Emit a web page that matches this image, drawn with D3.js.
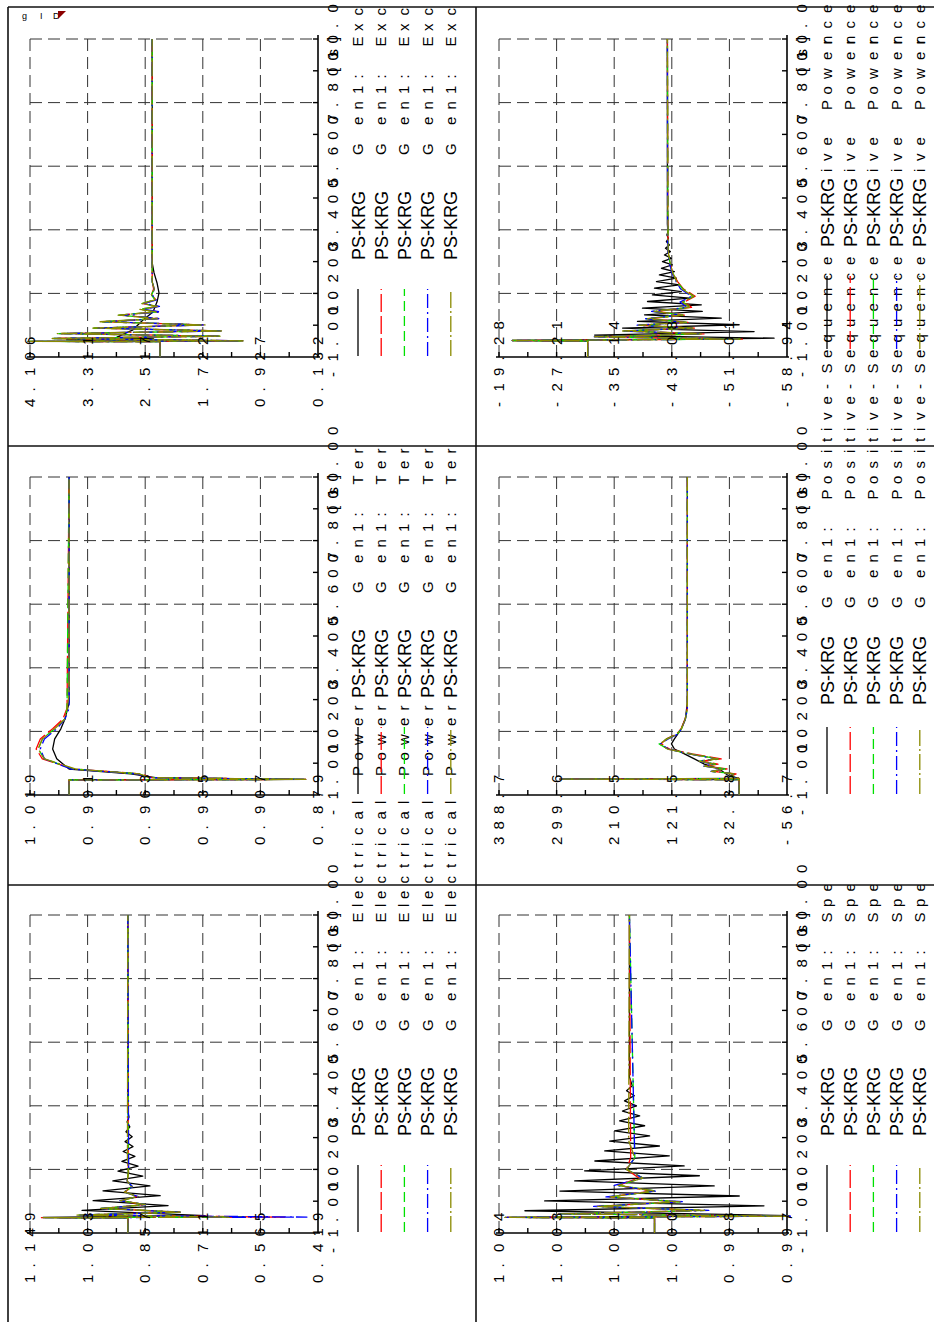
<!DOCTYPE html>
<html><head><meta charset="utf-8">
<script src="https://cdn.jsdelivr.net/npm/d3@7"></script>
<style>body{margin:0;background:#fff}svg{display:block}</style>
</head><body>
<svg id="page" width="934" height="1322"></svg>
<script>
// ---- time axis (shared by all six plots) ----
const timeDomain = [-1, 10];
const timeTickLabels = ["-1.000", "1.200", "3.400", "5.600", "7.800", "10.00"];

// ---- series: black, red, green, blue, olive ----
const seriesNames = ["PS-KRG", "PS-KRG", "PS-KRG", "PS-KRG", "PS-KRG"];
const seriesColors = ["#000000", "#ff0000", "#00e000", "#0000ff", "#8a8a00"];

// ---- Gen1: Electrical Power ----
const elecTickLabels = ["1.149", "1.003", "0.857", "0.711", "0.565", "0.419"];
const elecBlack = [[-1,.901],[-.48,.901],[-.46,1.116],[-.40,.705],[-.22,1.017],[-.05,.799],[.12,.989],[.29,.819],[.46,.964],[.63,.845],[.80,.939],[.97,.863],[1.14,.926],[1.31,.875],[1.48,.916],[1.65,.883],[1.82,.913],[1.99,.888],[2.16,.908],[2.33,.890],[2.50,.906],[2.67,.896],[2.84,.903],[3.01,.898],[3.2,.901],[10,.901]];
const elecRed = [[-1,.901],[-.48,.901],[-.47,1.12],[-.45,.503],[-.38,1.02],[-.28,.77],[-.15,.965],[-.02,.86],[.12,.918],[.26,.878],[.42,.908],[.6,.892],[.8,.902],[1.1,.9],[10,.901]];
const elecGreen = [[-1,.901],[-.48,.901],[-.47,1.11],[-.45,.60],[-.38,1.025],[-.28,.768],[-.15,.968],[-.02,.857],[.12,.919],[.26,.877],[.42,.909],[.6,.891],[.8,.902],[1.1,.9],[10,.901]];
const elecBlue = [[-1,.901],[-.48,.901],[-.47,1.115],[-.45,.447],[-.38,1.028],[-.28,.766],[-.15,.969],[-.02,.856],[.12,.921],[.26,.874],[.42,.911],[.6,.889],[.8,.903],[1.1,.899],[10,.901]];
const elecOlive = [[-1,.901],[-.48,.901],[-.47,1.116],[-.45,.642],[-.38,1.03],[-.28,.764],[-.15,.97],[-.02,.855],[.12,.92],[.26,.875],[.42,.91],[.6,.89],[.8,.903],[1.1,.899],[1.5,.902],[10,.901]];

// ---- Gen1: Terminal Voltage ----
const voltTickLabels = ["1.019", "0.991", "0.963", "0.935", "0.907", "0.879"];
const voltBlack = [[-1,1.0],[-.48,1.0],[-.46,.885],[-.40,.958],[-.27,.97],[-.10,1.0],[.25,1.006],[.59,1.008],[.94,1.007],[1.29,1.004],[1.63,1.002],[2.2,1.0],[10,1.0]];
const voltRed = [[-1,1.0],[-.48,1.0],[-.46,.885],[-.40,.96],[-.27,.965],[-.10,.998],[.25,1.013],[.59,1.016],[.94,1.014],[1.29,1.008],[1.63,1.003],[2.0,1.001],[10,1.0]];
const voltGreen = [[-1,1.0],[-.48,1.0],[-.46,.886],[-.40,.961],[-.27,.966],[-.10,.998],[.25,1.012],[.59,1.015],[.94,1.013],[1.29,1.007],[1.63,1.002],[2.0,1.001],[10,1.0]];
const voltBlue = [[-1,1.0],[-.48,1.0],[-.46,.886],[-.40,.962],[-.27,.967],[-.10,.999],[.25,1.012],[.59,1.014],[.94,1.012],[1.29,1.006],[1.63,1.002],[2.0,1.0],[10,1.0]];
const voltOlive = [[-1,1.0],[-.48,1.0],[-.46,.885],[-.40,.961],[-.27,.966],[-.10,.997],[.25,1.012],[.59,1.015],[.94,1.013],[1.29,1.007],[1.63,1.002],[1.98,1.001],[2.5,1.0],[10,1.0]];

// ---- Gen1: Excitation Voltage ----
const excTickLabels = ["4.106", "3.311", "2.517", "1.722", "0.927", "0.132"];
const excBlack = [[-1,2.312],[-.47,2.312],[-.46,4.134],[-.44,1.167],[-.40,3.60],[-.37,2.40],[-.31,2.906],[-.06,2.685],[.28,2.547],[.56,2.409],[.91,2.353],[1.22,2.326],[1.56,2.353],[1.91,2.394],[2.26,2.42],[10,2.42]];
const excRed = [[-1,2.312],[-.47,2.312],[-.46,4.05],[-.44,1.25],[-.36,3.75],[-.28,1.50],[-.19,3.70],[-.10,1.48],[0,3.22],[.11,1.72],[.22,3.10],[.33,2.33],[.45,2.86],[.56,2.34],[.65,2.58],[.75,2.34],[.85,2.55],[.98,2.37],[1.15,2.43],[1.35,2.40],[1.6,2.42],[10,2.42]];
const excGreen = [[-1,2.312],[-.47,2.312],[-.46,4.10],[-.44,1.20],[-.36,3.78],[-.28,1.49],[-.19,3.72],[-.10,1.46],[0,3.23],[.11,1.70],[.22,3.12],[.33,2.34],[.45,2.88],[.56,2.35],[.65,2.59],[.75,2.35],[.85,2.56],[.98,2.38],[1.15,2.43],[1.35,2.39],[1.6,2.42],[10,2.42]];
const excBlue = [[-1,2.312],[-.47,2.312],[-.46,4.08],[-.44,1.22],[-.36,3.77],[-.28,1.51],[-.19,3.69],[-.10,1.47],[0,3.20],[.11,1.71],[.22,3.08],[.33,2.30],[.45,2.84],[.56,2.30],[.65,2.55],[.75,2.32],[.85,2.53],[.98,2.36],[1.15,2.42],[1.35,2.39],[1.6,2.42],[10,2.42]];
const excOlive = [[-1,2.312],[-.47,2.312],[-.46,4.134],[-.44,1.167],[-.36,3.80],[-.28,1.484],[-.19,3.73],[-.10,1.44],[0,3.24],[.11,1.69],[.22,3.14],[.33,2.35],[.45,2.89],[.56,2.35],[.65,2.59],[.75,2.35],[.85,2.56],[.98,2.38],[1.15,2.43],[1.35,2.39],[1.6,2.42],[10,2.42]];

// ---- Gen1: Speed ----
const speedTickLabels = ["1.004", "1.003", "1.001", "1.000", "0.998", "0.997"];
const speedDomain = [0.997, 1.004];
const speedBlack = [[-1,1.00022],[-.48,1.00022],[-.46,1.00385],[-.40,.99695],[-.23,1.00337],[-.06,.99756],[.11,1.00289],[.28,.99816],[.45,1.00252],[.63,.99877],[.80,1.00216],[.98,.99913],[1.15,1.00192],[1.32,.9995],[1.49,1.00167],[1.67,.99986],[1.84,1.00143],[2.01,1.0001],[2.18,1.00131],[2.36,1.00034],[2.53,1.00119],[2.71,1.00046],[2.88,1.00107],[3.05,1.00058],[3.22,1.001],[3.40,1.00066],[3.57,1.00095],[3.75,1.00071],[3.92,1.0009],[4.09,1.00076],[4.4,1.00083],[10,1.00083]];
const speedRed = [[-1,1.00022],[-.48,1.00022],[-.46,1.0038],[-.42,.9970],[-.34,1.0024],[-.22,.9991],[-.08,1.0016],[.08,.9997],[.25,1.0013],[.45,1.0003],[.65,1.0011],[.9,1.0006],[1.2,1.0009],[1.6,1.0008],[10,1.00083]];
const speedGreen = [[-1,1.00022],[-.48,1.00022],[-.46,1.0038],[-.42,.9971],[-.34,1.0025],[-.22,.9990],[-.08,1.0016],[.08,.9996],[.25,1.0013],[.45,1.0002],[.65,1.0011],[.9,1.0005],[1.2,1.0009],[1.6,1.0007],[10,1.00083]];
const speedBlue = [[-1,1.00022],[-.48,1.00022],[-.46,1.0038],[-.42,.9969],[-.34,1.0025],[-.22,.9989],[-.08,1.0017],[.08,.9995],[.25,1.0014],[.45,1.0002],[.65,1.0012],[.9,1.0005],[1.2,1.0009],[1.6,1.0007],[10,1.00083]];
const speedOlive = [[-1,1.00022],[-.48,1.00022],[-.46,1.00385],[-.42,.99695],[-.34,1.0025],[-.22,.9990],[-.08,1.0016],[.08,.9996],[.25,1.0013],[.45,1.0002],[.65,1.0011],[.9,1.0005],[1.2,1.0009],[1.6,1.0007],[2.2,1.00085],[10,1.00083]];

// ---- Gen1: Positive-Sequence, Active Power ----
const pTickLabels = ["388.7", "299.6", "210.5", "121.5", "32.38", "-56.7"];
const pBlack = [[-1,17.3],[-.47,17.3],[-.45,294.7],[-.43,17.3],[-.3,35.8],[-.1,48.1],[.07,71.2],[.25,86.6],[.42,102],[.59,117.4],[.77,122],[.94,117.4],[1.29,106.7],[1.63,100.5],[2.2,97.4],[10,97.4]];
const pRed = [[-1,17.3],[-.47,17.3],[-.45,290],[-.43,17.3],[-.35,30],[-.27,22],[-.18,58],[-.1,36],[0,68],[.07,50],[.17,76],[.25,45],[.42,90],[.59,125],[.77,138],[.94,130],[1.11,114],[1.29,107],[1.63,101],[1.98,97.6],[10,97.4]];
const pGreen = [[-1,17.3],[-.47,17.3],[-.45,292],[-.43,17.3],[-.35,32],[-.27,24],[-.18,60],[-.1,39],[0,70],[.07,54],[.17,78],[.25,50],[.42,93],[.59,128],[.77,141],[.94,129],[1.11,113],[1.29,106.5],[1.63,100.5],[1.98,97.4],[10,97.4]];
const pBlue = [[-1,17.3],[-.47,17.3],[-.45,294.7],[-.43,17.3],[-.35,33],[-.27,26],[-.18,61],[-.1,41],[0,72],[.07,57],[.17,80],[.25,53],[.42,95],[.59,127],[.77,139],[.94,127],[1.11,112],[1.29,106.5],[1.63,100.4],[1.98,97.4],[10,97.4]];
const pOlive = [[-1,17.3],[-.47,17.3],[-.45,294.7],[-.43,17.3],[-.35,32.7],[-.27,25],[-.18,60.4],[-.1,40.4],[0,71.2],[.07,55.8],[.17,78.9],[.25,51.2],[.42,94.3],[.59,128.2],[.77,140.6],[.94,128.2],[1.11,112.8],[1.29,106.7],[1.63,100.5],[1.98,97.4],[10,97.4]];

// ---- Gen1: Positive-Sequence, Reactive Power ----
const qTickLabels = ["-19.28", "-27.21", "-35.14", "-43.08", "-51.01", "-58.94"];
const qBlack = [[-1,-31.49],[-.45,-31.49],[-.43,-21.1],[-.35,-57.16],[-.24,-32.45],[-.12,-54.41],[0,-36.30],[.115,-52.35],[.23,-38.35],[.345,-49.88],[.46,-39.32],[.575,-47.27],[.69,-39.04],[.805,-47.14],[.92,-39.73],[1.035,-45.49],[1.15,-40.41],[1.265,-44.39],[1.38,-40.69],[1.495,-44.12],[1.61,-40.96],[1.725,-43.71],[1.84,-41.37],[1.955,-43.43],[2.07,-41.65],[2.185,-43.16],[2.30,-41.79],[2.415,-43.02],[2.53,-42.06],[2.645,-42.88],[2.76,-42.20],[2.875,-42.75],[2.99,-42.33],[3.105,-42.61],[3.22,-42.40],[3.335,-42.55],[3.6,-42.47],[10,-42.47]];
const qRed = [[-1,-31.49],[-.45,-31.49],[-.43,-21.3],[-.38,-52.8],[-.30,-33.0],[-.20,-47.5],[-.10,-36.8],[0,-46.2],[.1,-38.8],[.2,-45.3],[.32,-39.8],[.45,-44.8],[.58,-40.8],[.72,-45.8],[.9,-44.8],[1.1,-46.3],[1.35,-44.7],[1.6,-43.9],[1.9,-43.2],[2.3,-42.8],[2.7,-42.55],[10,-42.47]];
const qGreen = [[-1,-31.49],[-.45,-31.49],[-.43,-21.2],[-.38,-52.5],[-.30,-32.7],[-.20,-47.3],[-.10,-36.5],[0,-46.0],[.1,-38.6],[.2,-45.1],[.32,-39.6],[.45,-44.6],[.58,-40.6],[.72,-45.6],[.9,-44.6],[1.1,-46.1],[1.35,-44.6],[1.6,-43.8],[1.9,-43.2],[2.3,-42.8],[2.7,-42.55],[10,-42.47]];
const qBlue = [[-1,-31.49],[-.45,-31.49],[-.43,-21.1],[-.38,-52.2],[-.30,-32.4],[-.20,-47.0],[-.10,-36.2],[0,-45.8],[.1,-38.3],[.2,-44.8],[.32,-39.3],[.45,-44.3],[.58,-40.3],[.72,-45.2],[.9,-44.2],[1.1,-45.8],[1.35,-44.3],[1.6,-43.7],[1.9,-43.1],[2.3,-42.7],[2.7,-42.5],[10,-42.47]];
const qOlive = [[-1,-31.49],[-.45,-31.49],[-.43,-21.1],[-.38,-52.35],[-.30,-32.45],[-.20,-47.27],[-.10,-36.3],[0,-46.0],[.1,-38.5],[.2,-45.0],[.32,-39.5],[.45,-44.5],[.58,-40.5],[.72,-45.5],[.9,-44.5],[1.1,-46.0],[1.35,-44.5],[1.6,-43.8],[1.9,-43.2],[2.3,-42.8],[2.7,-42.55],[10,-42.47]];

// ---- page layout: three columns of plots, two rows ----
const panels = [
  {col:0,row:0, ticks:elecTickLabels, series:[elecBlack,elecRed,elecGreen,elecBlue,elecOlive], text:"Gen1: Electrical Power"},
  {col:1,row:0, ticks:voltTickLabels, series:[voltBlack,voltRed,voltGreen,voltBlue,voltOlive], text:"Gen1: Terminal Voltage", clip:[-10,876]},
  {col:2,row:0, ticks:excTickLabels,  series:[excBlack,excRed,excGreen,excBlue,excOlive], text:"Gen1: Excitation Voltage"},
  {col:0,row:1, ticks:speedTickLabels, domain:speedDomain, series:[speedBlack,speedRed,speedGreen,speedBlue,speedOlive], text:"Gen1: Speed", clip:[-10,437]},
  {col:1,row:1, ticks:pTickLabels, series:[pBlack,pRed,pGreen,pBlue,pOlive], text:"Gen1: Positive-Sequence, Active Power", psOff:181, textOff:278},
  {col:2,row:1, ticks:qTickLabels, series:[qBlack,qRed,qGreen,qBlue,qOlive], text:"Gen1: Positive-Sequence, Reactive Power", psOff:201, psBg:true, sampleOff:[99,172], textOff:92, clip:[1274,1330]}
];

const W = 934, H = 1322;
const FONT = "'Liberation Sans', Arial, Helvetica, sans-serif";
const dashes = [null, "18,4", "10,5", "14,4,2,4", "16,3,2,3"];
const PITCH = 15.5;
const narrow = {"G":30, ":":12, " ":20, "i":11, "t":11, "l":8, "r":11, "w":19};

const svg = d3.select("#page");
svg.append("rect").attr("width", W).attr("height", H).attr("fill", "#fff");
// the sheet is laid out landscape and turned a quarter turn
const page = svg.append("g").attr("transform", `translate(0,${H}) rotate(-90)`);
const defs = svg.append("defs");

// place characters one by one with a wide advance
function spaced(sel, str, x0, y, adv) {
  const xs = [];
  let x = x0;
  for (const ch of str) { xs.push(x.toFixed(1)); x += adv(ch); }
  return sel.append("text").attr("x", xs.join(" ")).attr("y", y).text(str)
    .attr("font-family", FONT).attr("font-size", 15).attr("fill", "#000");
}
const fixedAdv = () => PITCH;
const textAdv = ch => (ch in narrow ? narrow[ch] : PITCH);

const plotLayer = page.append("g");
const legendLayer = page.append("g");

panels.forEach((p, k) => {
  const u0 = -2 + 438 * p.col, v0 = 8 + 469 * p.row;
  const L = u0 + 91, R = L + 318, T = v0 + 22, B = v0 + 310;
  const vals = p.ticks.map(Number);
  const dom = p.domain || [d3.min(vals), d3.max(vals)];
  const x = d3.scaleLinear().domain(timeDomain).range([L, R]);
  const y = d3.scaleLinear().domain(dom).range([B, T]);
  const g = plotLayer.append("g");

  // dashed grid
  const tTicks = d3.range(6).map(i => timeDomain[0] + i * (timeDomain[1] - timeDomain[0]) / 5);
  const vTicks = d3.range(6).map(i => dom[1] - i * (dom[1] - dom[0]) / 5);
  g.selectAll(".gx").data(tTicks.slice(1)).join("line")
    .attr("x1", d => x(d)).attr("x2", d => x(d)).attr("y1", T).attr("y2", B)
    .attr("stroke", "#333").attr("stroke-width", 1).attr("stroke-dasharray", "12,6");
  g.selectAll(".gy").data(vTicks.slice(0, 5)).join("line")
    .attr("x1", L).attr("x2", R).attr("y1", d => y(d)).attr("y2", d => y(d))
    .attr("stroke", "#333").attr("stroke-width", 1).attr("stroke-dasharray", "12,6");

  // axes with inward ticks
  g.append("line").attr("x1", L).attr("x2", R + 4).attr("y1", B).attr("y2", B).attr("stroke", "#000").attr("stroke-width", 1.6);
  g.append("line").attr("x1", L).attr("x2", L).attr("y1", T - 3).attr("y2", B + 2).attr("stroke", "#000").attr("stroke-width", 1.6);
  const tMinor = d3.range(11).map(i => timeDomain[0] + i * (timeDomain[1] - timeDomain[0]) / 10);
  const vMinor = d3.range(11).map(i => dom[0] + i * (dom[1] - dom[0]) / 10);
  g.selectAll(".tx").data(tMinor.slice(1)).join("line")
    .attr("x1", d => x(d)).attr("x2", d => x(d)).attr("y1", B).attr("y2", B - 5)
    .attr("stroke", "#000").attr("stroke-width", 1.4);
  g.selectAll(".ty").data(vMinor.slice(1)).join("line")
    .attr("x1", L).attr("x2", L + 5).attr("y1", d => y(d)).attr("y2", d => y(d))
    .attr("stroke", "#000").attr("stroke-width", 1.4);

  // curves: black first, olive on top
  const line = d3.line().x(d => x(d[0])).y(d => y(d[1]));
  p.series.forEach((s, i) => {
    g.append("path").attr("d", line(s)).attr("fill", "none")
      .attr("stroke", seriesColors[i]).attr("stroke-width", 1.3)
      .attr("stroke-dasharray", dashes[i]).attr("stroke-linejoin", "round");
  });

  // tick labels
  vTicks.forEach((v, i) => spaced(g, p.ticks[i], L - 50, y(v) + 5, fixedAdv));
  tTicks.forEach((t, i) => spaced(g, timeTickLabels[i], x(t) - 20, B + 20, fixedAdv));
  spaced(g, "[s]", R - 33, B + 20, fixedAdv);

  // legend rows
  const so = p.sampleOff || [92, 159];
  const psX = u0 + (p.psOff || 188);
  const lg = legendLayer.append("g");
  let tg = lg;
  if (p.clip) {
    const id = "clip" + k;
    defs.append("clipPath").attr("id", id).append("rect")
      .attr("x", p.clip[0]).attr("width", p.clip[1] - p.clip[0]).attr("y", v0).attr("height", 470);
    tg = lg.append("g").attr("clip-path", `url(#${id})`);
  }
  seriesNames.forEach((name, i) => {
    const vy = v0 + 350 + 23.2 * i;
    lg.append("line").attr("x1", u0 + so[0]).attr("x2", u0 + so[1]).attr("y1", vy).attr("y2", vy)
      .attr("stroke", seriesColors[i]).attr("stroke-width", 1.3).attr("stroke-dasharray", dashes[i]);
    if (p.psBg) lg.append("rect").attr("x", psX - 2).attr("y", vy - 11).attr("width", 76).attr("height", 22).attr("fill", "#fff");
    lg.append("text").attr("x", psX).attr("y", vy + 6.5).text(name)
      .attr("font-family", FONT).attr("font-size", 18).attr("fill", "#000");
    spaced(tg, p.text, u0 + (p.textOff || 293), vy + 5, textAdv);
  });
});

// sheet frame and separators
const frame = page.append("g").attr("stroke", "#111").attr("stroke-width", 1.6);
[8, 476].forEach(v => frame.append("line").attr("x1", -10).attr("x2", 1315).attr("y1", v).attr("y2", v));
[437, 876, 1315].forEach(u => frame.append("line").attr("x1", u).attr("x2", u).attr("y1", 8).attr("y2", 945));

// maker's mark in the corner
const mark = page.append("g").attr("font-family", FONT).attr("font-size", 9).attr("fill", "#000");
[["g", 22], ["I", 40], ["D", 53]].forEach(([c, v]) =>
  mark.append("text").attr("x", 1306).attr("y", v + 3).attr("transform", `rotate(90,1306,${v})`).text(c));
page.append("path").attr("d", "M1303,58 L1311,58 L1311,66 Z").attr("fill", "#8b0000");
</script>
</body></html>
